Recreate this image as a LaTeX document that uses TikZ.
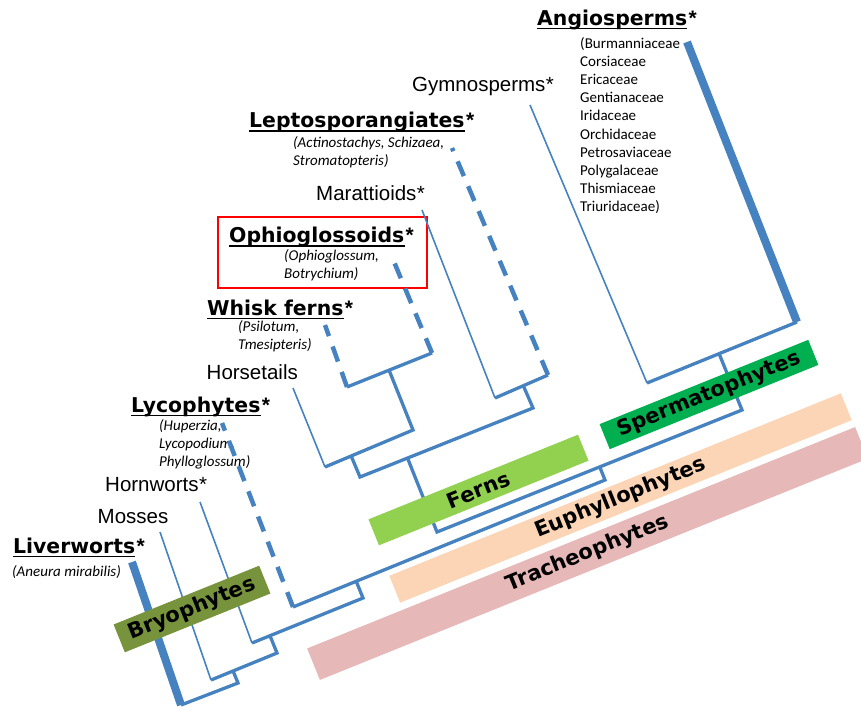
\documentclass[tikz,border=0pt]{standalone}
\usepackage{fontspec}
\setmainfont{Liberation Sans}
\newfontfamily\blackfont{DejaVu Sans}
\newfontfamily\calfont{Carlito}
\usetikzlibrary{calc}
\definecolor{tree}{RGB}{70,130,192}
\definecolor{bryo}{RGB}{119,147,60}
\definecolor{fern}{RGB}{146,208,80}
\definecolor{sperm}{RGB}{0,176,80}
\definecolor{euph}{RGB}{251,213,181}
\definecolor{trach}{RGB}{230,185,184}
\begin{document}
\begin{tikzpicture}[x=1pt,y=1pt,
  thinline/.style={draw=tree, line width=1.6pt},
  barline/.style={draw=tree, line width=3.3pt, line join=miter},
  thickline/.style={draw=tree, line width=8pt},
  dashline/.style={draw=tree, line width=4.5pt, dash pattern=on 16pt off 11pt},
  reg/.style={inner sep=0pt, anchor=base west, font=\fontsize{20.5}{24}\selectfont},
  bld/.style={inner sep=0pt, anchor=base west, font=\blackfont\bfseries\fontsize{20.4}{24}\selectfont},
  bstar/.style={inner sep=0pt, anchor=base west, font=\bfseries\fontsize{21}{24}\selectfont, xshift=1pt},
  gen/.style={inner sep=0pt, anchor=base west, font=\calfont\itshape\fontsize{15}{18}\selectfont},
  cal/.style={inner sep=0pt, anchor=base west, font=\calfont\fontsize{15}{18}\selectfont},
  uline/.style={draw=black, line width=1.6pt},
  grp/.style={rotate=22, inner sep=0pt, font=\blackfont\bfseries\fontsize{21}{24}\selectfont}
]
\useasboundingbox (0,0) rectangle (861,-710);

% ---------- labels ----------
\node[bld] (angN) at (537,-25) {Angiosperms};
\node[bstar] (angS) at (angN.base east) {*};
\draw[uline] ([yshift=-3.5pt]angN.base west) -- ([yshift=-3.5pt]angN.base east);
\node[cal] (a1) at (580,-48.5) {(Burmanniaceae};
\node[cal] (a2) at (580,-66.6) {Corsiaceae};
\node[cal] (a3) at (580,-84.7) {Ericaceae};
\node[cal] (a4) at (580,-102.8) {Gentianaceae};
\node[cal] (a5) at (580,-120.9) {Iridaceae};
\node[cal] (a6) at (580,-139.0) {Orchidaceae};
\node[cal] (a7) at (580,-157.1) {Petrosaviaceae};
\node[cal] (a8) at (580,-175.2) {Polygalaceae};
\node[cal] (a9) at (580,-193.3) {Thismiaceae};
\node[cal] (a10) at (580,-211.4) {Triuridaceae)};

\node[reg] (gymN) at (412,-91) {Gymnosperms};
\node[reg] (gymS) at (gymN.base east) {*};

\node[bld] (lepN) at (249,-127.5) {Leptosporangiates};
\node[bstar] (lepS) at (lepN.base east) {*};
\draw[uline] ([yshift=-3.5pt]lepN.base west) -- ([yshift=-3.5pt]lepN.base east);
\node[gen] (lep1) at (293,-147) {(Actinostachys, Schizaea,};
\node[gen] (lep2) at (293,-165) {Stromatopteris)};

\node[reg] (marN) at (316,-200) {Marattioids};
\node[reg] (marS) at (marN.base east) {*};

\node[draw=red, line width=2pt, minimum width=209pt, minimum height=71pt, inner sep=0pt] (redbox) at (322.5,-252) {};
\node[bld] (ophN) at (229,-242.5) {Ophioglossoids};
\node[bstar] (ophS) at (ophN.base east) {*};
\draw[uline] ([yshift=-3.5pt]ophN.base west) -- ([yshift=-3.5pt]ophN.base east);
\node[gen] (oph1) at (284,-260) {(Ophioglossum,};
\node[gen] (oph2) at (284,-278) {Botrychium)};

\node[bld] (whiN) at (207,-315) {Whisk ferns};
\node[bstar] (whiS) at (whiN.base east) {*};
\draw[uline] ([yshift=-3.5pt]whiN.base west) -- ([yshift=-3.5pt]whiN.base east);
\node[gen] (whi1) at (238,-331) {(Psilotum,};
\node[gen] (whi2) at (238,-349) {Tmesipteris)};

\node[reg] (hstN) at (206.5,-379.5) {Horsetails};

\node[bld] (lycN) at (131,-412) {Lycophytes};
\node[bstar] (lycS) at (lycN.base east) {*};
\draw[uline] ([yshift=-3.5pt]lycN.base west) -- ([yshift=-3.5pt]lycN.base east);
\node[gen] (lyc1) at (159,-430) {(Huperzia,};
\node[gen] (lyc2) at (159,-448) {Lycopodium,};
\node[gen] (lyc3) at (159,-466) {Phylloglossum)};

\node[reg] (hrnN) at (105,-491) {Hornworts};
\node[reg] (hrnS) at (hrnN.base east) {*};
\node[reg] (mosN) at (97.5,-523) {Mosses};

\node[bld] (livN) at (13,-553) {Liverworts};
\node[bstar] (livS) at (livN.base east) {*};
\draw[uline] ([yshift=-3.5pt]livN.base west) -- ([yshift=-3.5pt]livN.base east);
\node[gen] (liv1) at (12,-576) {(Aneura mirabilis)};

% ---------- tree coordinates ----------
\coordinate (livT) at (132,-562);  \coordinate (livB) at (181,-705);
\coordinate (n1R)  at (238,-683);
\coordinate (mosT) at (160,-532);  \coordinate (mosB) at (211,-680);
\coordinate (n2R)  at (277,-653);
\coordinate (horT) at (200,-502);  \coordinate (horB) at (252,-643);
\coordinate (n3R)  at (363,-598);
\coordinate (lycT) at (222,-423);  \coordinate (lycB) at (293,-607);
\coordinate (n4R)  at (605,-480);
\coordinate (hsT)  at (293,-388);  \coordinate (hsB)  at (325,-467);
\coordinate (hsR)  at (413,-430);
\coordinate (wkT)  at (325,-325);  \coordinate (wkB)  at (347,-387);
\coordinate (opT)  at (392,-257);  \coordinate (opB)  at (432,-353);
\coordinate (hnB)  at (360,-477);
\coordinate (feR)  at (533,-408);
\coordinate (feB)  at (437,-532);
\coordinate (maT)  at (422,-210);  \coordinate (maB)  at (495,-398);
\coordinate (leT)  at (452,-148);  \coordinate (leB)  at (548,-375);
\coordinate (euR)  at (742,-410);
\coordinate (gyT)  at (530,-105);  \coordinate (gyB)  at (647,-383);
\coordinate (anT)  at (687,-42);   \coordinate (anB)  at (797,-322);
% stem tops projected perpendicularly on the bars
\coordinate (n2T) at ($(mosB)!(n1R)!(n2R)$);
\coordinate (n3T) at ($(horB)!(n2R)!(n3R)$);
\coordinate (n4T) at ($(lycB)!(n3R)!(n4R)$);
\coordinate (n5T) at ($(feB)!(n4R)!(euR)$);
\coordinate (woT) at ($(wkB)!(hsR)!(opB)$);
\coordinate (hnT) at ($(hsB)!(hnB)!(hsR)$);
\coordinate (feT) at ($(hnB)!(feB)!(feR)$);
\coordinate (mlT) at ($(maB)!(feR)!(leB)$);
\coordinate (spT) at ($(gyB)!(euR)!(anB)$);

% ---------- tree ----------
\draw[thinline] (mosT) -- (mosB);
\draw[thinline] (horT) -- (horB);
\draw[thinline] (hsT) -- (hsB);
\draw[thinline] (maT) -- (maB);
\draw[thinline] (gyT) -- (gyB);
\draw[dashline] (lycB) -- (lycT);
\draw[dashline] (wkB) -- (wkT);
\draw[dashline] (opB) -- (opT);
\draw[dashline] (leB) -- (leT);
\draw[barline] (livB) -- (n1R) -- (n2T);
\draw[barline] (mosB) -- (n2R) -- (n3T);
\draw[barline] (horB) -- (n3R) -- (n4T);
\draw[barline] (lycB) -- (n4R) -- (n5T);
\draw[barline] (hsB) -- (hsR) -- (woT);
\draw[barline] (wkB) -- (opB);
\draw[barline] (hnT) -- (hnB) -- (feR) -- (mlT);
\draw[barline] (maB) -- (leB);
\draw[barline] (feT) -- (feB) -- (euR) -- (spT);
\draw[barline] (gyB) -- (anB);
\draw[thickline] (livT) -- (livB);
\draw[thickline] (anT) -- (anB);

% ---------- group boxes ----------
\node[grp, fill=trach, minimum width=591pt, minimum height=34pt] (trachB) at (587.5,-553.5) {Tracheophytes};
\node[grp, fill=euph, minimum width=487pt, minimum height=29pt] (euphB) at (620.5,-498) {Euphyllophytes};
\node[grp, fill=fern, minimum width=226pt, minimum height=28pt] (fernB) at (478.5,-490) {Ferns};
\node[grp, fill=sperm, minimum width=225pt, minimum height=27pt] (spermB) at (709,-394.5) {Spermatophytes};
\node[grp, fill=bryo, minimum width=157pt, minimum height=30pt] (bryoB) at (192,-609) {Bryophytes};
\end{tikzpicture}
\end{document}
